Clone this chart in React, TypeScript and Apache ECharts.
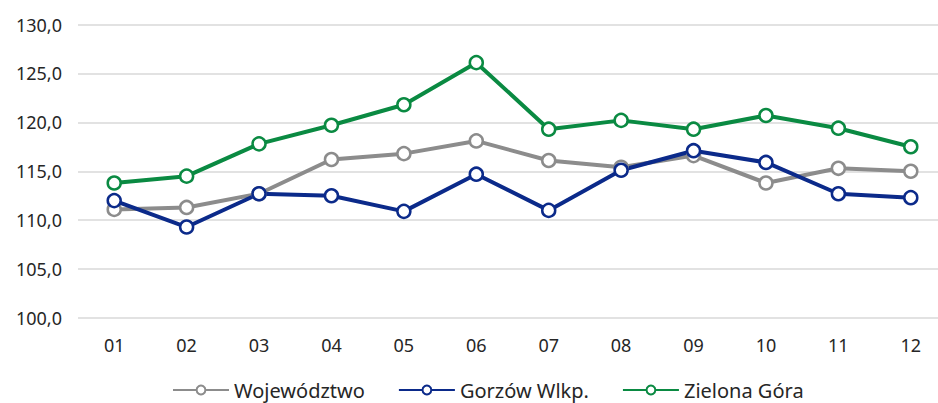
import React, { useEffect, useRef } from "react";
import * as echarts from "echarts";

const months = ["01", "02", "03", "04", "05", "06", "07", "08", "09", "10", "11", "12"];
const wojewodztwo = [111.1, 111.3, 112.7, 116.2, 116.8, 118.1, 116.1, 115.4, 116.6, 113.8, 115.3, 115.0];
const gorzow = [112.0, 109.3, 112.7, 112.5, 110.9, 114.7, 111.0, 115.1, 117.1, 115.9, 112.7, 112.3];
const zielonaGora = [113.8, 114.5, 117.8, 119.7, 121.8, 126.1, 119.3, 120.2, 119.3, 120.7, 119.4, 117.5];

const seriesNames = ["Województwo", "Gorzów Wlkp.", "Zielona Góra"];
const seriesColors = ["#8c8c8c", "#0b2a8a", "#0a8a42"];

export default function App() {
  const ref = useRef<HTMLDivElement>(null);
  useEffect(() => {
    if (!ref.current) return;
    const chart = echarts.init(ref.current, null, { renderer: "svg" });
    const font = "Noto Sans";
    const mk = (name: string, data: number[], color: string) => ({
      name,
      type: "line",
      data,
      symbol: "circle",
      symbolSize: 13,
      showSymbol: true,
      lineStyle: { color, width: 4 },
      itemStyle: { color: "#ffffff", borderColor: color, borderWidth: 2.5 },
      emphasis: { disabled: true },
    });
    chart.setOption({
      animation: false,
      textStyle: { fontFamily: font },
      grid: {
        left: 78,
        width: 869,
        top: 24.5,
        bottom: 85,
        containLabel: false,
        outerBoundsMode: "none",
      },
      legend: {
        top: 380,
        left: 172,
        padding: 0,
        itemWidth: 56,
        itemHeight: 11,
        itemGap: 33,
        textStyle: { fontFamily: font, fontSize: 20, lineHeight: 20, color: "#262626" },
        data: seriesNames,
      },
      xAxis: {
        type: "category",
        data: months,
        boundaryGap: true,
        axisLine: { show: false },
        axisTick: { show: false },
        axisLabel: { margin: 18, fontSize: 18, color: "#262626", fontFamily: font },
      },
      yAxis: {
        type: "value",
        min: 100,
        max: 130,
        interval: 5,
        axisLine: { show: false },
        axisTick: { show: false },
        splitLine: { lineStyle: { color: "#d9d9d9", width: 1.5 } },
        axisLabel: {
          margin: 16,
          fontSize: 18,
          color: "#262626",
          fontFamily: font,
          formatter: (v: number) => v.toFixed(1).replace(".", ","),
        },
      },
      series: [
        mk(seriesNames[0], wojewodztwo, seriesColors[0]),
        mk(seriesNames[1], gorzow, seriesColors[1]),
        mk(seriesNames[2], zielonaGora, seriesColors[2]),
      ],
    });
    return () => chart.dispose();
  }, []);
  return (
    <div
      ref={ref}
      style={{ position: "fixed", left: 0, top: 0, width: 938, height: 403, background: "#fff" }}
    />
  );
}
